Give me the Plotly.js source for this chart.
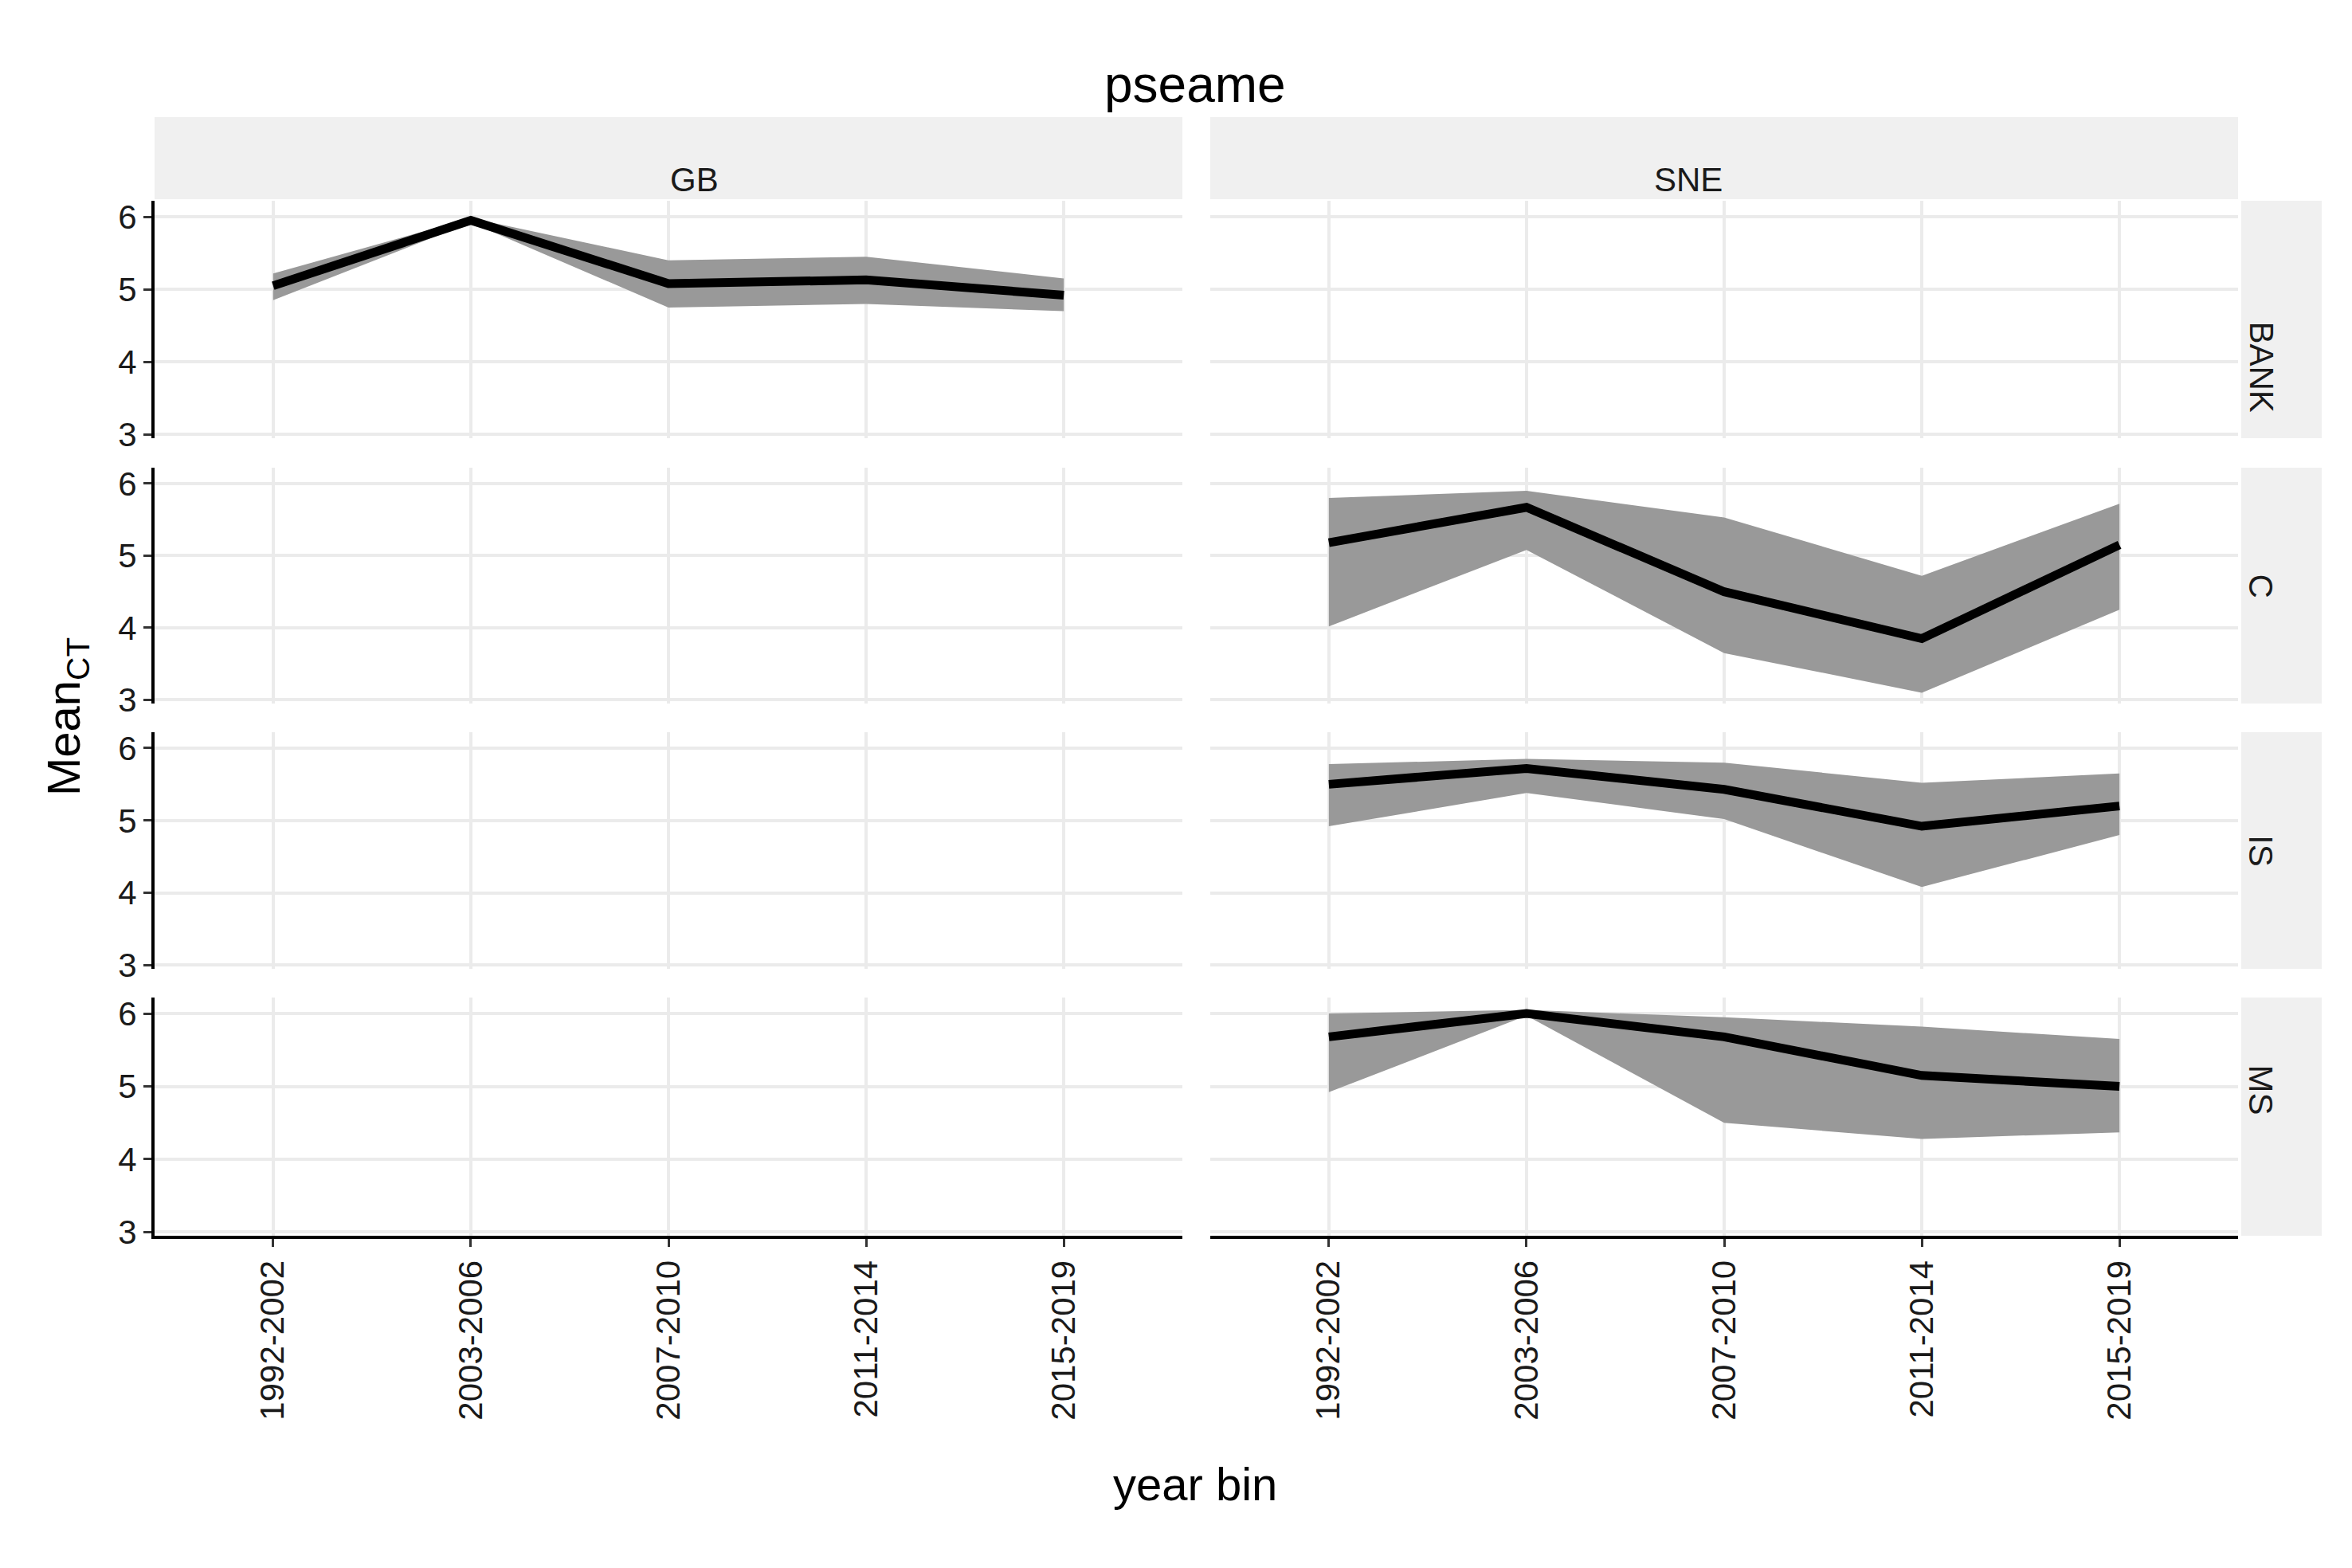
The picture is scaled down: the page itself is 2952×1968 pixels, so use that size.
<!DOCTYPE html>
<html>
<head>
<script src="https://cdn.plot.ly/plotly-3.0.1.min.js"></script>
<style>body{margin:0;} #chart{width:2952px;height:1968px;}</style>
</head>
<body>
<div id="chart"></div>
<script>
// data
var bins = ['1992-2002', '2003-2006', '2007-2010', '2011-2014', '2015-2019'];
var regions = ['GB', 'SNE'];
var strata = ['BANK', 'C', 'IS', 'MS'];

var gbBankMean = [5.05, 5.95, 5.08, 5.13, 4.92];
var gbBankLow  = [4.85, 5.92, 4.75, 4.80, 4.70];
var gbBankHigh = [5.22, 5.98, 5.40, 5.45, 5.15];

var sneCMean = [5.18, 5.67, 4.50, 3.85, 5.15];
var sneCLow  = [4.02, 5.08, 3.65, 3.10, 4.25];
var sneCHigh = [5.80, 5.90, 5.53, 4.72, 5.72];

var sneISMean = [5.50, 5.72, 5.43, 4.92, 5.20];
var sneISLow  = [4.92, 5.38, 5.02, 4.08, 4.80];
var sneISHigh = [5.78, 5.85, 5.80, 5.52, 5.65];

var sneMSMean = [5.68, 6.00, 5.68, 5.15, 5.00];
var sneMSLow  = [4.92, 5.97, 4.50, 4.28, 4.37];
var sneMSHigh = [6.00, 6.05, 5.95, 5.82, 5.65];

var series = [
  {row: 0, col: 0, mean: gbBankMean, low: gbBankLow, high: gbBankHigh},
  {row: 1, col: 1, mean: sneCMean, low: sneCLow, high: sneCHigh},
  {row: 2, col: 1, mean: sneISMean, low: sneISLow, high: sneISHigh},
  {row: 3, col: 1, mean: sneMSMean, low: sneMSLow, high: sneMSHigh}
];

var W = 2952, H = 1968;
var colX = [[194, 1484], [1519, 2809]];
var rowY = [[252, 550], [587, 883], [919, 1216], [1252, 1551]];
function px(x) { return x / W; }
function py(y) { return 1 - y / H; }
function ax(k) { return k === 1 ? '' : k; }

var layout = {
  width: W, height: H,
  margin: {l: 0, r: 0, t: 0, b: 0},
  paper_bgcolor: 'white', plot_bgcolor: 'white',
  showlegend: false,
  font: {family: 'Liberation Sans, Arial, sans-serif', color: '#1a1a1a', size: 42},
  shapes: [], annotations: []
};

var traces = [];
for (var r = 0; r < 4; r++) {
  for (var c = 0; c < 2; c++) {
    var k = r * 2 + c + 1;
    layout['xaxis' + ax(k)] = {
      domain: [px(colX[c][0]), px(colX[c][1])],
      anchor: 'y' + ax(k),
      type: 'category', categoryarray: bins,
      range: [-0.6, 4.6],
      showgrid: true, gridcolor: '#ebebeb', gridwidth: 4,
      zeroline: false,
      showticklabels: r === 3,
      tickangle: -90,
      ticks: r === 3 ? 'outside' : '', ticklen: 10, tickwidth: 3, tickcolor: '#333',
      showline: r === 3, linecolor: 'black', linewidth: 4,
      tickfont: {size: 42, color: '#1a1a1a'}
    };
    layout['yaxis' + ax(k)] = {
      domain: [py(rowY[r][1]), py(rowY[r][0])],
      anchor: 'x' + ax(k),
      range: [2.95, 6.22],
      tickvals: [3, 4, 5, 6],
      showgrid: true, gridcolor: '#ebebeb', gridwidth: 4,
      zeroline: false,
      showticklabels: c === 0,
      ticks: c === 0 ? 'outside' : '', ticklen: 10, tickwidth: 3, tickcolor: '#333',
      showline: c === 0, linecolor: 'black', linewidth: 4,
      tickfont: {size: 42, color: '#1a1a1a'}
    };
    // empty trace so every panel is drawn
    traces.push({x: bins, y: [null, null, null, null, null], xaxis: 'x' + ax(k), yaxis: 'y' + ax(k),
      mode: 'lines', hoverinfo: 'skip'});
  }
  layout.shapes.push({type: 'rect', xref: 'paper', yref: 'paper', layer: 'below',
    x0: px(2813), x1: px(2914), y0: py(rowY[r][1]), y1: py(rowY[r][0]),
    fillcolor: '#f0f0f0', line: {width: 0}});
  layout.annotations.push({xref: 'paper', yref: 'paper', x: px(2863), y: py((rowY[r][0] + rowY[r][1]) / 2),
    text: strata[r], showarrow: false, textangle: 90, font: {size: 42, color: '#1a1a1a'}});
}
for (var c = 0; c < 2; c++) {
  layout.shapes.push({type: 'rect', xref: 'paper', yref: 'paper', layer: 'below',
    x0: px(colX[c][0]), x1: px(colX[c][1]), y0: py(250), y1: py(147),
    fillcolor: '#f0f0f0', line: {width: 0}});
  layout.annotations.push({xref: 'paper', yref: 'paper', x: px((colX[c][0] + colX[c][1]) / 2), y: py(200),
    text: regions[c], showarrow: false, font: {size: 42, color: '#1a1a1a'}});
}
layout.annotations.push({xref: 'paper', yref: 'paper', x: px(1500), y: py(68),
  text: 'pseame', showarrow: false, font: {size: 64, color: 'black'}});
layout.annotations.push({xref: 'paper', yref: 'paper', x: px(1500), y: py(1897),
  text: 'year bin', showarrow: false, font: {size: 58, color: 'black'}});
layout.annotations.push({xref: 'paper', yref: 'paper', x: px(45), y: py(900),
  text: 'Mean<sub>CT</sub>', showarrow: false, textangle: -90, font: {size: 58, color: 'black'}});

series.forEach(function (s) {
  var k = s.row * 2 + s.col + 1;
  var xr = 'x' + ax(k), yr = 'y' + ax(k);
  traces.push({x: bins, y: s.low, xaxis: xr, yaxis: yr, mode: 'lines', line: {width: 0}, hoverinfo: 'skip'});
  traces.push({x: bins, y: s.high, xaxis: xr, yaxis: yr, mode: 'lines', line: {width: 0},
    fill: 'tonexty', fillcolor: 'rgb(153,153,153)'});
  traces.push({x: bins, y: s.mean, xaxis: xr, yaxis: yr, mode: 'lines', line: {color: 'black', width: 11}});
});

Plotly.newPlot('chart', traces, layout, {displayModeBar: false});
</script>
</body>
</html>
